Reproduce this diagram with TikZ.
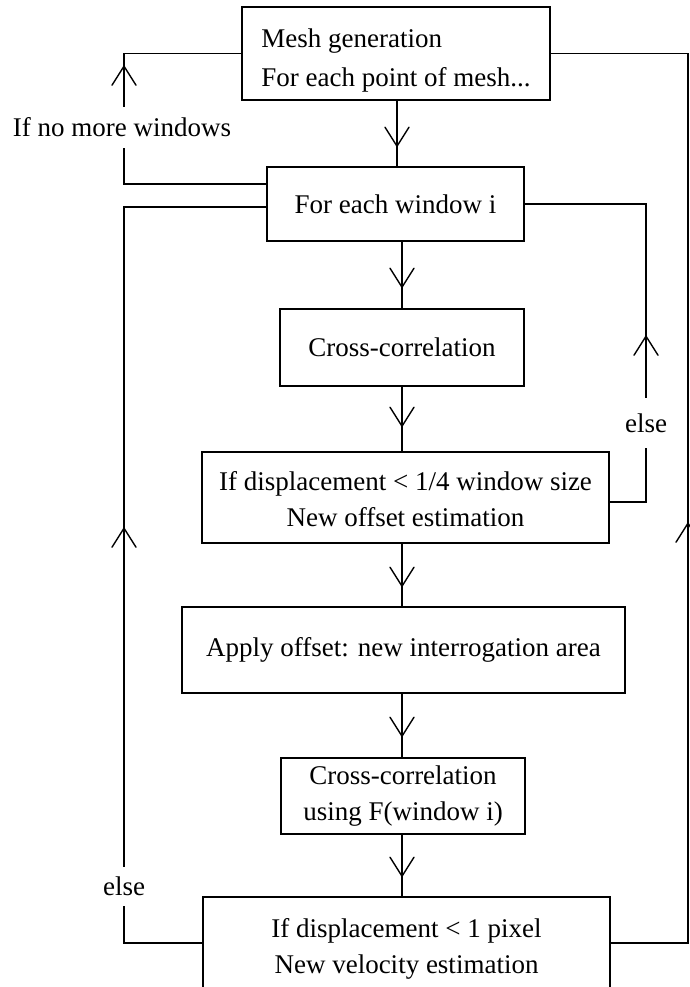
\documentclass[tikz,border=0pt]{standalone}
\usepackage{fontspec}
\setmainfont{Liberation Serif}
\usetikzlibrary{decorations.markings}
\begin{document}
\begin{tikzpicture}[x=1pt,y=-1pt,
  every node/.style={font=\fontsize{27}{36}\selectfont},
  box/.style={draw, line width=1.6pt, rectangle, inner sep=0pt, align=center},
  link/.style={line width=1.6pt},
  % open V head placed part-way along a connector
  barb/.style={postaction={decorate}, decoration={markings,
      mark=at position #1 with {\draw[line width=1.4pt, line cap=round]
        (-19pt,12pt) -- (0pt,0pt) -- (-19pt,-12pt);}}},
  lbl/.style={fill=white, inner xsep=1pt, inner ysep=0pt}
]
\fill[white] (0,0) rectangle (690,987);
\useasboundingbox (0,0) rectangle (690,987);
\clip (0,0) rectangle (690,987);

% process boxes (two-line texts sit slightly below the box middle)
\node[box, minimum width=308pt, minimum height=93pt,
      font=\fontsize{27}{39}\selectfont] (b1) at (396,53.5)
  {\raisebox{-12pt}[0pt][0pt]{\begin{tabular}{@{}l@{}}Mesh generation\\For each point of mesh...\end{tabular}}};
\node[box, minimum width=257pt, minimum height=74pt] (b2) at (395.5,204)
  {For each window i};
\node[box, minimum width=244pt, minimum height=77pt] (b3) at (402,347.5)
  {Cross-correlation};
\node[box, minimum width=407pt, minimum height=91pt] (b4) at (405.5,497.5)
  {\raisebox{-10pt}[0pt][0pt]{\begin{tabular}{@{}c@{}}If displacement < 1/4 window size\\New offset estimation\end{tabular}}};
\node[box, minimum width=443pt, minimum height=86pt] (b5) at (403.5,650)
  {Apply offset: new interrogation area};
\node[box, minimum width=244pt, minimum height=76pt] (b6) at (403,796)
  {Cross-correlation\\using F(window i)};
\node[box, minimum width=407pt, minimum height=92pt] (b7) at (406.5,943)
  {\raisebox{-12pt}[0pt][0pt]{\begin{tabular}{@{}c@{}}If displacement < 1 pixel\\New velocity estimation\end{tabular}}};

% columns used by the connectors
\coordinate (ax1) at (397,0);
\coordinate (ax) at (402,0);
\coordinate (xl) at (124,0);
\coordinate (xe) at (646,0);
\coordinate (xr) at (688,0);
\coordinate (b2out) at ([yshift=20pt]b2.west);
\coordinate (b2in) at ([yshift=-3pt]b2.west);
\coordinate (b4out) at ([yshift=-4.5pt]b4.east);

% main downward flow
\draw[link, barb=-20pt] (b1.south -| ax1) -- (b2.north -| ax1);
\draw[link, barb=-21pt] (b2.south -| ax) -- (b3.north -| ax);
\draw[link, barb=-25pt] (b3.south -| ax) -- (b4.north -| ax);
\draw[link, barb=-20pt] (b4.south -| ax) -- (b5.north -| ax);
\draw[link, barb=-21pt] (b5.south -| ax) -- (b6.north -| ax);
\draw[link, barb=-20pt] (b6.south -| ax) -- (b7.north -| ax);

% feedback loops
\draw[link, barb=260pt] (b2out) -| (xl |- b1.west) -- (b1.west);
\draw[link, barb=493pt] (b7.west) -| (xl |- b2in) -- (b2in);
\draw[link, barb=202pt] (b4out) -| (xe |- b2.east) -- (b2.east);
\draw[link, barb=497pt] (b7.east) -| (xr |- b1.east) -- (b1.east);

% loop labels
\node[lbl, minimum height=41pt] (l1) at (122,127.5) {If no more windows};
\node[lbl, minimum height=50pt] (l2) at (646,423) {else};
\node[lbl, minimum height=39pt] (l3) at (124,886.5) {else};
\end{tikzpicture}
\end{document}
